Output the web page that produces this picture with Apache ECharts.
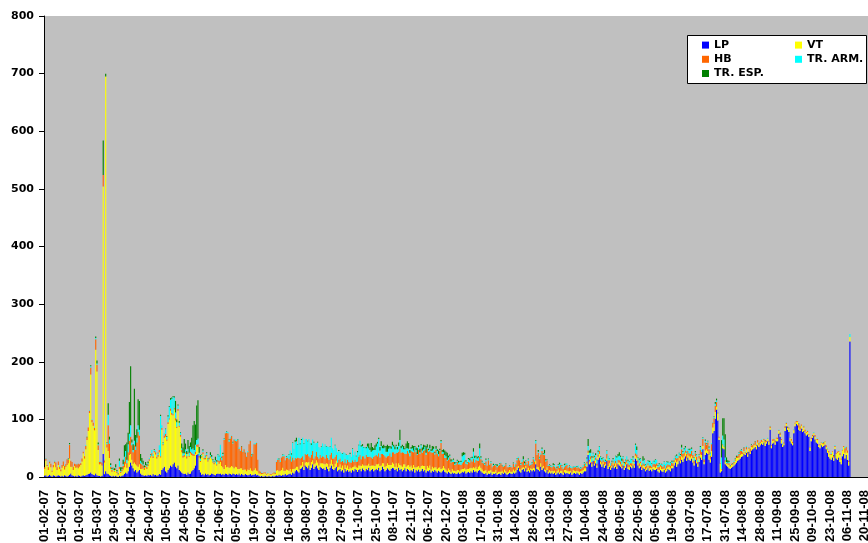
<!DOCTYPE html>
<html><head><meta charset="utf-8">
<script src="https://cdn.jsdelivr.net/npm/echarts@6/dist/echarts.min.js"></script>
<style>html,body{margin:0;padding:0;background:#fff}#c{width:868px;height:543px}</style>
</head><body><div id="c"></div>
<script>
// first day of the daily category axis: 01-02-2007, one category per day
const firstDay = { year: 2007, month: 2, day: 1 };
const dayCount = 661;
const labelEvery = 14;
const seriesNames = ['LP', 'VT', 'HB', 'TR. ARM.', 'TR. ESP.'];
const yTicks = { min: 0, max: 800, step: 100 };

const LP = [
2,3,1,2,4,2,1,3,2,1,2,3,2,1,
2,1,3,2,1,2,4,6,3,2,1,2,1,3,
2,1,2,3,2,3,4,5,6,8,5,4,3,6,
3,2,2,1,2,40,5,10,6,5,3,2,1,2,
1,2,1,0,2,1,2,3,5,8,6,10,18,25,
20,15,10,12,8,10,12,6,4,3,2,3,2,4,
3,4,2,5,3,4,2,3,5,4,12,15,18,10,
8,12,15,20,18,22,25,18,15,20,12,10,8,6,
5,6,4,8,5,6,10,12,15,20,38,40,12,8,
4,5,3,6,4,5,3,4,6,5,4,3,5,6,
5,6,4,5,4,6,5,4,6,5,4,6,5,4,
5,4,6,3,5,4,3,5,4,3,4,5,3,4,
4,5,3,4,2,1,2,1,1,2,1,1,2,1,
1,2,1,2,3,2,4,3,2,4,3,5,3,4,
5,6,4,8,6,10,12,10,8,14,15,18,12,20,
18,15,20,12,16,22,14,18,20,15,12,18,16,14,
15,12,18,14,10,16,20,14,12,15,18,10,12,14,
10,12,8,14,10,12,9,11,8,12,10,14,12,9,
12,14,10,15,12,10,14,12,16,10,12,14,10,12,
14,12,16,10,12,18,14,10,12,15,13,11,14,16,
15,12,14,10,16,12,14,10,12,15,10,14,12,10,
12,10,14,8,12,10,13,9,11,14,10,12,8,11,
10,12,8,11,9,12,10,8,11,9,8,10,12,9,
8,6,9,7,5,8,6,7,5,6,8,5,7,9,
8,10,6,8,9,7,10,8,12,9,10,8,11,12,
10,8,6,5,7,4,6,5,8,4,6,5,7,4,
5,6,4,7,5,8,6,4,5,7,6,5,8,6,
8,12,16,10,8,12,14,10,15,9,11,8,12,10,
12,10,22,14,12,10,18,12,15,10,8,12,6,8,
6,8,5,7,4,6,8,5,7,6,4,8,6,7,
6,5,8,4,6,7,5,8,6,4,7,5,8,10,
10,18,38,22,25,18,28,20,24,16,30,34,22,18,
22,16,20,28,14,18,12,16,20,15,18,14,22,20,
18,15,20,12,16,22,14,12,18,15,20,16,32,28,
20,15,18,12,16,14,10,12,15,11,13,10,14,12,
12,14,10,8,12,10,9,12,8,10,14,12,10,15,
15,20,25,18,22,28,24,30,26,32,36,28,34,30,
28,32,25,20,30,24,18,26,34,30,48,22,38,42,
40,30,25,35,76,80,101,117,98,64,8,10,50,48,
22,20,18,15,14,16,18,20,22,25,28,30,32,35,
36,40,38,42,35,44,40,46,48,50,52,48,55,52,
55,58,56,60,54,58,62,56,82,50,58,60,56,62,
62,75,70,58,52,55,80,88,82,78,62,58,55,76,
88,92,90,82,80,84,78,80,76,72,74,70,45,62,
68,72,65,60,58,52,50,55,52,54,56,48,42,35,
32,30,34,28,48,32,30,34,26,22,36,40,32,38,
30,20,235,0,0,0,0,0,0,0,0,0,0,0,
0,0,0
];

const VT = [
12,25,18,10,20,15,8,14,22,16,10,18,12,9,
14,18,10,16,20,22,28,12,15,10,18,14,16,12,
16,20,25,38,30,45,60,75,105,170,90,85,78,215,
180,45,20,22,18,464,20,685,45,40,30,12,8,10,
8,10,6,4,12,6,8,10,12,15,10,18,20,15,
10,8,15,10,12,8,10,8,10,12,10,14,12,15,
25,30,35,28,40,35,30,32,38,30,70,40,50,60,
55,80,85,95,90,85,92,80,70,95,75,60,35,28,
30,35,28,32,30,35,28,25,22,20,15,12,22,18,
30,35,28,25,32,22,28,30,25,20,18,22,15,20,
18,20,15,12,10,15,12,14,10,12,15,12,10,14,
12,10,8,12,10,8,10,8,6,10,8,10,8,6,
8,10,8,6,4,5,3,4,6,4,3,5,4,3,
3,4,5,3,8,10,6,8,10,12,8,6,10,8,
6,8,5,6,8,5,6,8,5,6,5,8,6,5,
8,10,6,8,10,7,8,6,9,10,8,6,8,10,
8,10,6,9,8,7,10,8,6,8,10,7,6,8,
6,8,5,7,6,8,5,6,7,5,8,6,5,7,
8,6,9,7,8,10,6,8,7,9,8,6,10,7,
8,10,7,9,8,6,10,8,7,9,8,10,7,9,
8,6,10,7,8,9,6,8,10,7,8,6,9,8,
8,6,7,9,5,8,6,7,8,6,9,7,5,8,
6,8,5,7,6,5,7,6,5,8,6,5,7,6,
5,4,6,5,4,6,5,4,5,6,4,5,6,5,
6,5,7,6,5,8,6,7,5,6,8,6,7,8,
6,5,4,6,5,4,5,6,4,5,3,4,5,3,
4,3,5,4,3,5,4,3,4,5,3,4,5,4,
4,5,3,4,5,4,3,5,4,3,5,4,3,4,
4,5,6,4,5,3,6,5,4,3,4,5,3,4,
4,3,5,4,3,4,5,3,4,5,3,4,6,4,
4,5,3,4,6,4,5,3,4,5,3,6,4,5,
5,6,4,5,6,4,5,3,6,4,5,6,4,5,
4,5,3,4,5,6,4,3,5,4,6,4,3,5,
4,3,5,4,6,3,4,5,3,4,6,4,5,6,
5,4,6,3,4,5,3,4,6,4,3,5,4,6,
4,5,3,4,6,4,5,3,4,5,4,6,5,4,
4,6,5,8,6,5,4,6,8,5,6,4,5,6,
6,5,8,4,6,5,4,6,5,8,6,4,8,6,
5,8,6,10,10,12,12,5,12,4,15,3,5,4,
5,3,4,6,4,5,3,4,6,8,5,4,6,5,
4,5,3,6,4,5,4,6,3,5,4,6,5,4,
4,3,5,4,6,3,4,5,3,4,5,3,4,5,
4,5,3,6,4,3,5,4,3,6,6,5,4,5,
5,3,6,4,3,5,4,6,3,5,4,3,6,4,
3,4,5,4,6,3,5,4,6,3,5,4,6,8,
6,8,10,6,4,8,12,10,12,8,10,12,10,8,
12,6,8,0,0,0,0,0,0,0,0,0,0,0,
0,0,0
];

const HB = [
3,4,2,5,3,6,2,4,3,8,5,6,4,3,
5,8,6,4,10,6,24,10,8,6,4,6,5,8,
4,3,5,3,4,6,5,6,4,12,4,5,4,18,
12,8,4,3,5,20,4,0,6,45,25,4,3,2,
2,3,2,1,4,2,3,6,10,12,8,15,25,30,
25,20,30,25,40,60,50,10,8,5,4,3,4,3,
3,2,4,3,2,4,3,3,4,2,3,2,4,5,
2,3,2,4,3,2,3,4,2,3,2,3,4,3,
3,2,4,3,2,3,4,3,2,4,3,5,3,2,
2,3,2,3,2,2,3,2,1,2,3,2,2,3,
5,8,10,20,50,55,60,58,45,50,52,40,50,45,
45,50,35,30,38,32,35,28,25,30,45,48,25,30,
45,42,48,20,5,3,2,2,1,2,1,1,0,1,
1,1,2,3,15,18,20,15,22,20,25,18,20,22,
20,22,18,20,15,18,14,16,20,12,14,10,12,15,
12,15,10,14,12,16,10,12,15,10,12,14,10,12,
12,10,14,10,12,15,12,10,14,12,10,8,12,10,
10,8,12,10,8,10,12,8,10,12,8,10,9,11,
15,18,12,14,16,12,18,15,12,16,14,12,15,18,
16,14,18,15,20,16,14,18,15,12,16,20,14,18,
20,22,18,25,20,28,22,25,20,18,22,25,20,18,
25,28,22,30,26,20,28,24,30,22,26,28,25,30,
28,25,30,24,28,22,30,26,20,28,45,25,22,18,
20,18,15,22,16,12,15,10,12,14,10,12,8,10,
12,14,10,8,12,10,14,12,15,10,12,14,10,15,
15,12,14,10,15,12,18,10,12,8,10,12,8,10,
10,12,15,8,10,6,12,10,8,6,9,7,10,8,
10,12,14,15,8,10,12,6,8,10,12,8,6,9,
15,12,30,20,25,18,15,28,20,25,15,12,10,8,
8,6,10,7,8,5,6,8,10,6,7,5,8,10,
6,8,5,7,4,6,8,5,7,6,4,5,6,8,
4,3,4,3,5,4,3,5,4,3,4,5,3,4,
4,6,3,8,10,5,4,6,3,5,4,6,5,4,
5,4,6,3,4,5,6,4,3,5,4,3,4,5,
4,5,3,6,4,3,5,4,3,5,4,3,4,5,
6,5,4,6,3,5,4,6,3,5,4,3,5,6,
5,3,4,6,5,4,8,12,6,5,4,8,6,5,
6,8,5,4,5,6,4,5,8,6,12,5,14,8,
15,10,6,12,8,10,10,8,2,2,1,1,2,1,
2,1,2,3,1,2,1,2,3,2,4,6,8,5,
3,5,2,4,3,2,5,3,4,3,5,2,4,3,
2,3,1,2,3,2,1,2,3,1,2,3,2,1,
2,1,3,2,1,2,3,2,1,2,1,3,2,1,
1,2,1,6,5,2,1,2,3,1,2,1,1,2,
2,1,3,1,2,1,2,1,1,2,1,3,1,2,
1,2,1,3,2,1,2,1,3,2,1,2,8,6,
4,2,0,0,0,0,0,0,0,0,0,0,0,0,
0,0,0
];

const ARM = [
0,1,0,0,1,0,0,0,1,0,0,0,1,0,
0,0,1,0,0,1,1,0,0,0,0,0,1,0,
0,0,0,0,0,1,0,0,1,2,1,0,1,2,
2,2,1,1,1,0,1,0,2,18,7,3,2,1,
1,2,1,0,10,2,1,3,8,10,6,14,12,20,
5,4,8,6,8,12,10,4,3,2,1,1,2,2,
2,3,6,4,2,3,2,3,8,70,5,2,4,8,
5,10,20,15,25,30,18,10,8,6,5,4,3,4,
3,5,4,6,5,8,6,10,8,12,8,10,5,4,
2,3,1,2,3,2,1,2,3,2,1,2,5,10,
8,22,5,3,2,1,2,2,3,2,1,2,1,2,
2,1,2,1,0,1,1,0,1,2,0,1,2,1,
1,2,1,0,0,0,1,0,0,0,0,1,0,0,
0,0,0,1,1,2,1,2,1,2,3,1,2,3,
8,10,12,25,20,28,30,22,35,25,30,32,28,25,
28,22,30,25,18,20,28,22,15,25,20,12,18,22,
18,25,15,20,22,14,26,18,15,20,12,18,15,12,
15,12,18,10,14,8,12,15,10,20,12,14,10,16,
20,25,22,18,15,20,12,18,15,12,10,14,12,10,
15,22,25,12,14,10,12,15,10,8,12,10,14,12,
10,8,12,6,10,15,8,10,6,8,10,5,8,6,
4,6,3,5,4,2,5,3,6,4,3,5,4,2,
3,5,2,4,6,3,2,5,4,2,3,4,2,5,
3,2,4,3,2,3,4,2,3,2,3,4,5,12,
12,10,4,3,5,4,3,6,12,8,5,4,6,15,
3,2,1,2,3,1,2,1,2,1,2,1,1,2,
1,2,1,0,2,1,1,0,1,2,1,0,1,2,
2,3,2,1,2,4,2,3,1,2,3,2,1,2,
2,3,5,1,2,3,2,4,1,3,2,1,2,1,
1,2,1,3,2,1,2,6,3,2,1,4,2,3,
2,1,3,2,1,2,1,2,3,1,2,1,3,2,
3,5,8,12,6,8,5,7,4,6,5,8,6,4,
3,4,2,5,8,3,4,2,3,6,8,10,6,8,
8,6,4,5,3,6,4,5,8,6,4,3,15,8,
4,6,5,3,4,8,3,5,4,6,8,5,6,4,
8,6,3,4,2,3,4,5,8,6,3,4,5,2,
3,4,2,5,3,4,2,3,4,6,5,3,4,6,
8,4,3,5,2,3,4,2,5,3,2,4,3,2,
2,3,4,2,1,2,4,3,1,0,0,20,15,12,
5,2,1,2,1,0,1,2,1,0,1,2,1,2,
1,0,1,2,0,1,0,1,0,1,0,1,0,1,
0,1,0,1,0,0,1,0,1,0,0,1,0,0,
0,1,0,0,1,0,0,1,0,0,1,0,0,1,
0,1,0,0,1,0,0,1,0,0,1,0,0,0,
0,1,0,0,1,0,0,0,1,0,0,0,1,0,
0,1,0,0,1,0,0,1,0,0,1,0,2,1,
0,0,5,0,0,0,0,0,0,0,0,0,0,0,
0,0,0
];

const ESP = [
0,0,0,0,0,0,0,0,0,0,0,0,0,0,
0,0,0,0,0,1,2,0,0,0,0,0,0,0,
0,0,0,0,0,0,1,0,0,2,0,0,0,3,
5,3,0,0,0,60,0,5,1,20,5,3,2,1,
3,5,2,1,4,6,3,8,20,12,30,20,55,102,
5,10,90,20,15,45,50,12,8,6,3,5,2,3,
0,1,0,0,1,0,0,1,0,2,0,1,0,1,
1,2,1,3,2,1,2,20,5,2,3,1,8,10,
25,10,5,15,12,8,20,40,50,35,60,66,10,6,
1,2,0,1,2,1,0,5,3,2,1,6,2,1,
1,0,1,2,1,0,1,0,1,0,0,1,0,0,
0,1,0,0,1,0,0,1,0,0,0,0,1,0,
0,0,0,0,0,0,0,0,0,0,0,0,0,0,
0,0,0,0,0,0,1,0,0,1,0,0,1,0,
1,0,2,1,0,3,6,1,0,1,2,0,1,0,
0,1,0,0,2,0,1,0,0,1,0,0,1,0,
0,0,1,0,0,1,0,0,0,1,0,0,2,0,
0,1,0,0,1,0,0,2,0,1,0,0,1,2,
1,0,2,3,1,0,2,5,8,4,15,6,3,8,
5,3,2,6,8,4,6,3,10,12,5,3,4,6,
3,5,2,4,6,18,4,3,6,2,8,12,10,5,
3,5,8,2,4,10,3,6,2,5,8,3,12,6,
2,6,3,8,4,2,5,3,6,2,2,3,5,8,
8,12,3,2,4,1,2,3,1,2,3,1,2,6,
5,3,2,1,2,3,1,2,6,4,2,3,2,8,
2,1,0,1,2,0,1,0,1,0,2,0,1,3,
0,1,0,1,0,0,1,0,0,1,0,0,1,0,
0,1,0,0,1,0,5,3,1,0,1,0,0,1,
1,0,1,0,3,1,0,2,1,6,2,1,0,1,
1,0,3,1,0,2,1,3,0,1,0,2,1,0,
0,1,0,0,1,0,0,1,0,0,1,0,0,1,
1,2,12,4,6,2,1,2,3,1,2,1,1,2,
1,0,2,1,0,1,0,1,2,0,1,2,4,6,
2,4,1,2,1,0,2,1,0,1,2,1,2,6,
1,2,1,0,8,2,1,0,1,2,0,1,0,1,
1,0,1,2,0,1,0,1,0,1,2,0,1,1,
1,0,1,2,0,1,2,5,1,2,3,1,0,2,
1,2,0,1,2,1,0,1,2,0,1,0,2,1,
1,2,1,0,0,1,3,3,0,0,0,30,30,37,
40,8,4,2,1,0,1,0,1,2,0,1,0,1,
0,1,0,0,1,0,0,1,0,0,1,0,0,0,
0,0,0,0,1,0,0,0,0,0,0,0,1,0,
0,0,1,0,0,0,0,0,1,0,0,0,0,0,
0,0,0,1,0,0,0,0,0,0,0,0,0,0,
0,0,0,0,0,0,0,0,0,1,0,0,0,0,
0,0,0,1,0,0,0,0,0,0,0,0,0,0,
0,0,0,0,0,0,0,0,0,0,0,0,0,0,
0,0,0
];

const seriesValues = [LP, VT, HB, ARM, ESP];
const seriesColors = ['#0000ff', '#ffff00', '#ff6600', '#00ffff', '#008000'];

seriesValues.forEach((arr, i) => {
  if (arr.length !== dayCount) throw new Error(seriesNames[i] + ' has ' + arr.length + ' values');
});

function pad(n) { return (n < 10 ? '0' : '') + n; }
const categories = [];
for (let i = 0; i < dayCount; i++) {
  const d = new Date(Date.UTC(firstDay.year, firstDay.month - 1, firstDay.day + i));
  categories.push(pad(d.getUTCDate()) + '-' + pad(d.getUTCMonth() + 1) + '-' + pad(d.getUTCFullYear() % 100));
}

const FONT = 'DejaVu Sans';
const chart = echarts.init(document.getElementById('c'), null, { renderer: 'canvas' });

const legendText = { fontFamily: FONT, fontWeight: 'bold', fontSize: 11, color: '#000', lineHeight: 14.2 };
const legendBase = {
  orient: 'vertical', top: 38, itemWidth: 7, itemHeight: 7, itemGap: 0, icon: 'rect',
  padding: 0, textStyle: legendText, z: 10, selectedMode: false
};

chart.setOption({
  animation: false,
  backgroundColor: '#ffffff',
  grid: { left: 44, right: 0, top: 16, bottom: 66, show: true, backgroundColor: '#c0c0c0', borderWidth: 0,
    containLabel: false, outerBoundsMode: 'none' },
  graphic: [{
    type: 'rect', z: 5,
    shape: { x: 687.5, y: 35.5, width: 179, height: 48 },
    style: { fill: '#ffffff', stroke: '#000000', lineWidth: 1 }
  }],
  legend: [
    Object.assign({}, legendBase, { left: 702, data: ['LP', 'HB', 'TR. ESP.'] }),
    Object.assign({}, legendBase, { left: 795, data: ['VT', 'TR. ARM.'] })
  ],
  xAxis: {
    type: 'category', data: categories, boundaryGap: true,
    axisLine: { lineStyle: { color: '#000', width: 1 } },
    axisTick: { interval: labelEvery - 1, length: 5, lineStyle: { color: '#000' } },
    axisLabel: { interval: labelEvery - 1, rotate: 90, margin: 13, color: '#000',
      fontFamily: 'Liberation Sans', fontWeight: 'bold', fontSize: 13 },
    splitLine: { show: false }
  },
  yAxis: {
    type: 'value', min: yTicks.min, max: yTicks.max, interval: yTicks.step,
    axisLine: { show: true, lineStyle: { color: '#000', width: 1 } },
    axisTick: { show: true, length: 5, lineStyle: { color: '#000' } },
    axisLabel: { margin: 10, color: '#000', fontFamily: FONT, fontWeight: 'bold', fontSize: 11 },
    splitLine: { show: false }
  },
  series: seriesNames.map((name, i) => ({
    name, type: 'bar', stack: 'all', data: seriesValues[i],
    barCategoryGap: '10%',
    itemStyle: { color: seriesColors[i] },
    emphasis: { disabled: true }, silent: true
  }))
});
</script>
</body></html>
